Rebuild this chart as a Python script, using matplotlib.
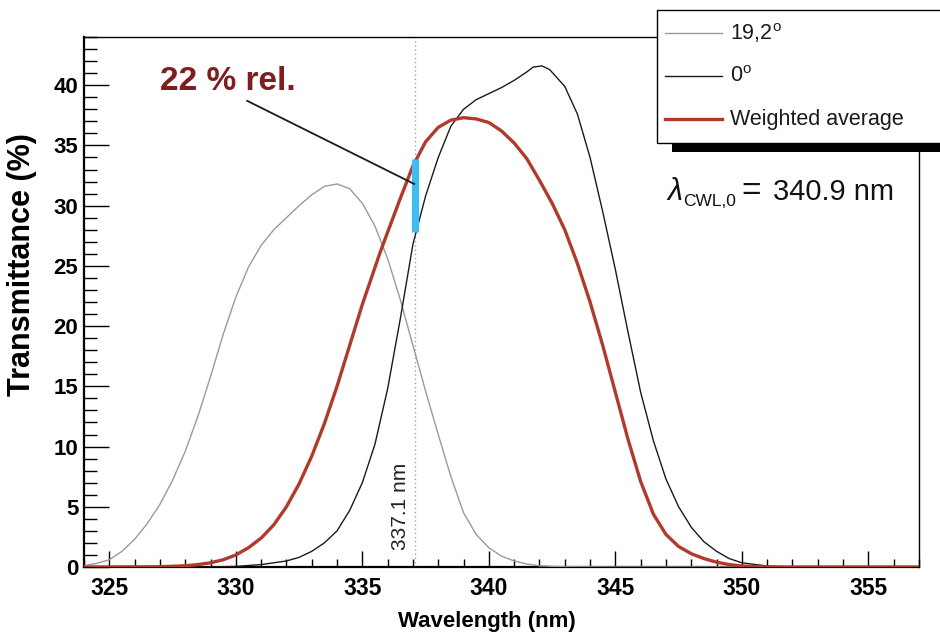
import matplotlib
matplotlib.use("Agg")
import matplotlib.pyplot as plt
from matplotlib.lines import Line2D
from matplotlib.patches import Rectangle
from matplotlib.ticker import MultipleLocator

plt.rcParams['font.family'] = ['Liberation Sans', 'DejaVu Sans']
plt.rcParams['mathtext.fontset'] = 'custom'
plt.rcParams['mathtext.rm'] = 'Liberation Sans'
plt.rcParams['mathtext.it'] = 'Liberation Sans:italic'
plt.rcParams['mathtext.bf'] = 'Liberation Sans:bold'

# transmittance curves (%), wavelength in nm
wl_tilt = [324.0, 324.5, 325.0, 325.5, 326.0, 326.5, 327.0, 327.5, 328.0, 328.5,
           329.0, 329.5, 330.0, 330.5, 331.0, 331.5, 332.0, 332.5, 333.0, 333.5,
           334.0, 334.5, 335.0, 335.5, 336.0, 336.5, 337.0, 337.5, 338.0, 338.5,
           339.0, 339.5, 340.0, 340.5, 341.0, 341.5, 342.0, 343.0, 345.0, 357.0]
tr_tilt = [0.1, 0.3, 0.6, 1.3, 2.3, 3.6, 5.2, 7.2, 9.6, 12.5,
           15.8, 19.3, 22.4, 24.9, 26.7, 28.0, 29.0, 30.0, 30.9, 31.6,
           31.8, 31.4, 30.2, 28.3, 25.6, 22.2, 18.4, 14.6, 11.0, 7.5,
           4.5, 2.7, 1.6, 0.9, 0.5, 0.25, 0.1, 0.02, 0.0, 0.0]

wl_normal = [324.0, 329.0, 330.0, 331.0, 332.0, 332.5, 333.0, 333.5, 334.0, 334.5,
             335.0, 335.5, 336.0, 336.5, 337.0, 337.5, 338.0, 338.5, 339.0, 339.5,
             340.0, 340.5, 341.0, 341.5, 341.75, 342.1, 342.4, 343.0, 343.5, 344.0,
             344.5, 345.0, 345.5, 346.0, 346.5, 347.0, 347.5, 348.0, 348.5, 349.0,
             349.5, 350.0, 351.0, 352.0, 357.0]
tr_normal = [0.0, 0.0, 0.05, 0.2, 0.5, 0.8, 1.3, 2.0, 3.0, 4.7,
             7.0, 10.2, 14.8, 20.6, 26.8, 30.8, 34.0, 36.6, 38.0, 38.8,
             39.3, 39.8, 40.4, 41.1, 41.5, 41.6, 41.3, 39.9, 37.6, 34.0,
             29.5, 24.7, 19.5, 14.5, 10.5, 7.3, 5.0, 3.3, 2.1, 1.3,
             0.7, 0.35, 0.08, 0.0, 0.0]

wl_avg = [324.0, 327.0, 328.0, 328.5, 329.0, 329.5, 330.0, 330.5, 331.0, 331.5,
          332.0, 332.5, 333.0, 333.5, 334.0, 334.5, 335.0, 335.7, 336.0, 336.5,
          337.0, 337.5, 338.0, 338.5, 339.0, 339.5, 340.0, 340.5, 341.0, 341.5,
          342.0, 342.5, 343.0, 343.5, 344.0, 344.5, 345.0, 345.5, 346.0, 346.5,
          347.0, 347.5, 348.0, 348.5, 349.0, 349.5, 350.0, 351.0, 357.0]
tr_avg = [0.0, 0.02, 0.1, 0.2, 0.35, 0.6, 1.0, 1.6, 2.4, 3.5,
          5.0, 6.9, 9.2, 11.9, 15.0, 18.4, 21.8, 26.1, 27.8, 30.6,
          33.3, 35.3, 36.5, 37.1, 37.3, 37.2, 36.9, 36.2, 35.2, 33.9,
          32.1, 30.2, 28.0, 25.2, 22.0, 18.4, 14.5, 10.6, 7.1, 4.4,
          2.7, 1.7, 1.1, 0.7, 0.4, 0.2, 0.08, 0.0, 0.0]

labels = ['19,2$^{\\rm o}$', '0$^{\\rm o}$', 'Weighted average']
colors = ['#9a9a9a', '#1a1a1a', '#b03a2c']
widths = [1.0, 1.0, 2.4]

cut_wl = 337.1          # wavelength marker
cut_lo, cut_hi = 27.8, 33.9   # 0 deg and weighted average at the marker
cwl = 340.9

W, H = 940, 633
fig = plt.figure(figsize=(9.4, 6.33), dpi=100)
ax = fig.add_axes([84 / W, 1 - 567 / H, 835 / W, 530 / H])

ax.plot(wl_tilt, tr_tilt, color=colors[0], lw=widths[0], zorder=3)
ax.plot(wl_normal, tr_normal, color=colors[1], lw=widths[1], zorder=3)
ax.plot(wl_avg, tr_avg, color=colors[2], lw=widths[2], zorder=4)

# dotted marker line and its label
ax.axvline(cut_wl, color='#a0a0a0', lw=1.0, ls=(0, (1, 2)), zorder=2)
ax.text(cut_wl - 0.2, 1.4, f'{cut_wl} nm', rotation=90, ha='right', va='bottom',
        fontsize=15, color='#222222')

# difference bar between 0 deg and the average
ax.plot([cut_wl, cut_wl], [cut_lo, cut_hi], color='#3fbdee', lw=5.2,
        solid_capstyle='butt', zorder=5)
ax.plot([330.45, cut_wl - 0.05], [38.7, 31.8], color='#1a1a1a', lw=1.3, zorder=5)
ax.text(327.0, 40.3, '22 % rel.', fontsize=24, fontweight='bold', color='#7d1f1f',
        ha='left', va='center')

# central wavelength
base = (567 - 199.5) / 530
ax.text((666 - 84) / 835, base, r'$\lambda$', transform=ax.transAxes,
        fontsize=22, ha='left', va='baseline', color='#111111')
ax.text((683 - 84) / 835, base - 6 / 530, 'CWL,0', transform=ax.transAxes,
        fontsize=12.5, ha='left', va='baseline', color='#111111')
ax.text((741 - 84) / 835, base, '=', transform=ax.transAxes,
        fontsize=24, ha='left', va='baseline', color='#111111')
ax.text((773 - 84) / 835, base, f'{cwl} nm', transform=ax.transAxes,
        fontsize=21, ha='left', va='baseline', color='#111111')

ax.set_xlim(324, 357)
ax.set_ylim(0, 44)
ax.xaxis.set_major_locator(MultipleLocator(5))
ax.xaxis.set_minor_locator(MultipleLocator(1))
ax.yaxis.set_major_locator(MultipleLocator(5))
ax.yaxis.set_minor_locator(MultipleLocator(1))

ax.xaxis.set_tick_params(which='major', direction='in', length=11.5, width=1.0, pad=7)
ax.xaxis.set_tick_params(which='minor', direction='in', length=5.5, width=1.0)
ax.yaxis.set_tick_params(which='major', direction='in', length=18, width=1.0, pad=4)
ax.yaxis.set_tick_params(which='minor', direction='in', length=9, width=1.0)
for lab in ax.get_xticklabels():
    lab.set_fontweight('bold')
    lab.set_fontsize(16.5)
for lab in ax.get_yticklabels():
    lab.set_fontweight('bold')
    lab.set_fontsize(16)

ax.spines['left'].set_linewidth(1.6)
ax.spines['bottom'].set_linewidth(1.6)
ax.spines['top'].set_linewidth(1.0)
ax.spines['right'].set_linewidth(1.0)

ax.set_xlabel('Wavelength (nm)', fontsize=16, fontweight='bold')
ax.set_ylabel('Transmittance (%)', fontsize=22, fontweight='bold')
ax.xaxis.set_label_coords(0.483, -0.083)
ax.yaxis.set_label_coords(-0.056, 0.57)

# legend box with a drop shadow, running off the right edge
fig.add_artist(Rectangle((672 / W, 1 - 152 / H), 300 / W, 140 / H,
                         transform=fig.transFigure, facecolor='black', edgecolor='none', zorder=6))
fig.add_artist(Rectangle((657 / W, 1 - 143 / H), 300 / W, 133 / H,
                         transform=fig.transFigure, facecolor='white', edgecolor='black',
                         lw=1.0, zorder=7))
for i, (lab, c, w) in enumerate(zip(labels, colors, widths)):
    yf = 1 - (33 + 43 * i) / H
    fig.add_artist(Line2D([665 / W, 722 / W], [yf, yf], color=c, lw=w,
                          transform=fig.transFigure, zorder=8))
    fig.text(730 / W, yf, lab, fontsize=15.5, va='center', ha='left',
             color='#1a1a1a', zorder=8)

fig.savefig('out.png', dpi=100)
